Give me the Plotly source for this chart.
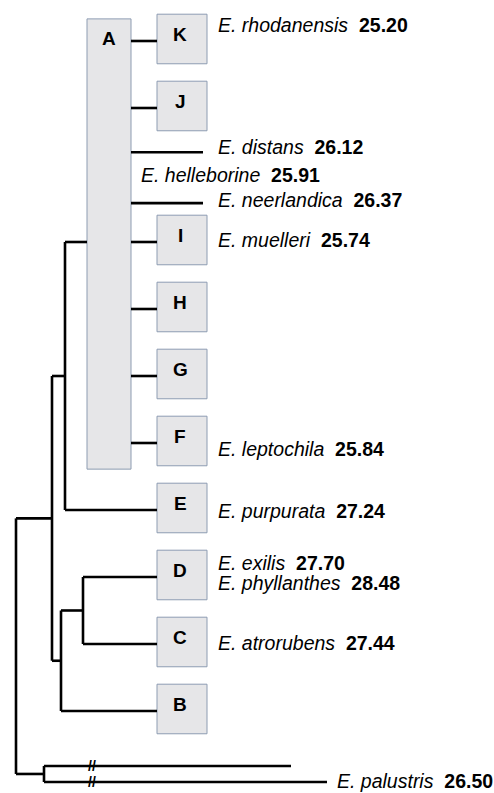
import plotly.graph_objects as go

# ---------------- data ----------------
# leaves of the tree (row = vertical slot, tip_x = where the branch ends)
leaf_ids = ["K", "J", "dist", "neer", "I", "H", "G", "F", "E", "D", "C", "B", "out1", "pal"]
leaf_rows = [0, 1, 1.66, 2.42, 3, 4, 5, 6, 7, 8, 9, 10, 10.82, 11.06]
leaf_tip_x = [157, 157, 203, 203, 157, 157, 157, 157, 157, 157, 157, 157, 291, 327]

# internal nodes: depth (x) and children
node_ids = ["A", "nAE", "nDC", "nDCB", "nIn", "nOut", "root"]
node_x = [131, 65, 83, 61, 52, 44, 16]
node_entry_x = [87, 65, 83, 61, 52, 44, 16]
node_children = [
    ["K", "J", "dist", "neer", "I", "H", "G", "F"],
    ["A", "E"],
    ["D", "C"],
    ["nDC", "B"],
    ["nAE", "nDCB"],
    ["out1", "pal"],
    ["nIn", "nOut"],
]
collapsed_nodes = ["A"]  # drawn as a box, no vertical line

# boxed clades
box_letters = ["K", "J", "I", "H", "G", "F", "E", "D", "C", "B"]
box_width = 50
clade_A_span = ["K", "F"]

# species labels
species = ["E. rhodanensis", "E. distans", "E. helleborine", "E. neerlandica",
           "E. muelleri", "E. leptochila", "E. purpurata", "E. exilis",
           "E. phyllanthes", "E. atrorubens", "E. palustris"]
values = [25.20, 26.12, 25.91, 26.37, 25.74, 25.84, 27.24, 27.70, 28.48, 27.44, 26.50]
label_rows = [-0.24, 1.58, 2.0, 2.37, 2.97, 6.09, 7.01, 7.79, 8.09, 8.99, 11.04]
label_x = [216, 216, 139, 216, 216, 216, 216, 216, 216, 216, 335]

break_x = 92
break_leaves = ["out1", "pal"]

# ---------------- layout helpers ----------------
row_of = dict(zip(leaf_ids, leaf_rows))
tip_of = dict(zip(leaf_ids, leaf_tip_x))
nx = dict(zip(node_ids, node_x))
nentry = dict(zip(node_ids, node_entry_x))
nch = dict(zip(node_ids, node_children))


def y_of(n):
    if n in row_of:
        return row_of[n]
    ys = [y_of(c) for c in nch[n]]
    return (min(ys) + max(ys)) / 2


def entry_x(n):
    return tip_of[n] if n in tip_of else nentry[n]


xs, ys = [], []
for n in node_ids:
    cy = [y_of(c) for c in nch[n]]
    if n not in collapsed_nodes:
        xs += [nx[n], nx[n], None]
        ys += [min(cy), max(cy), None]
    for c in nch[n]:
        xs += [nx[n], entry_x(c), None]
        ys += [y_of(c), y_of(c), None]

FONT = "Liberation Sans, Arial"
fig = go.Figure()
fig.add_trace(go.Scatter(x=xs, y=ys, mode="lines",
                         line=dict(color="black", width=2.6),
                         hoverinfo="skip", showlegend=False))

box_fill = "#e6e6e8"
box_line = "#8d9cb2"
half_up, half_dn = 0.40, 0.34

# clade A box
ay0 = row_of[clade_A_span[0]] - 0.33
ay1 = row_of[clade_A_span[1]] + 0.39
fig.add_shape(type="rect", x0=nentry["A"], x1=nx["A"], y0=ay0, y1=ay1,
              fillcolor=box_fill, line=dict(color=box_line, width=1), layer="below")
fig.add_annotation(x=(nentry["A"] + nx["A"]) / 2, y=row_of["K"] - 0.03, text="<b>A</b>",
                   showarrow=False, font=dict(size=19, color="black", family=FONT))

for L in box_letters:
    r = row_of[L]
    x0 = tip_of[L]
    fig.add_shape(type="rect", x0=x0, x1=x0 + box_width, y0=r - half_up, y1=r + half_dn,
                  fillcolor=box_fill, line=dict(color=box_line, width=1), layer="below")
    fig.add_annotation(x=x0 + box_width / 2 - 2, y=r - 0.09, text=f"<b>{L}</b>",
                       showarrow=False, font=dict(size=19, color="black", family=FONT))

for s, v, r, x in zip(species, values, label_rows, label_x):
    fig.add_annotation(x=x, y=r, xanchor="left", yanchor="middle",
                       text=f"<i>{s}</i>\u00a0\u00a0<b>{v:.2f}</b>",
                       showarrow=False,
                       font=dict(size=19.5, color="black", family=FONT))

for b in break_leaves:
    fig.add_annotation(x=break_x, y=row_of[b], text="<b>//</b>", showarrow=False,
                       font=dict(size=14, color="black", family=FONT))

fig.update_layout(
    width=494, height=793,
    margin=dict(l=0, r=0, t=0, b=0),
    paper_bgcolor="white", plot_bgcolor="white",
    xaxis=dict(range=[0, 494], visible=False, fixedrange=True),
    yaxis=dict(range=[11.224, -0.612], visible=False, fixedrange=True),
    showlegend=False,
)

fig.write_html("out.html", config={"displayModeBar": False},
               post_script="document.body.style.margin='0';document.body.style.overflow='hidden';")
